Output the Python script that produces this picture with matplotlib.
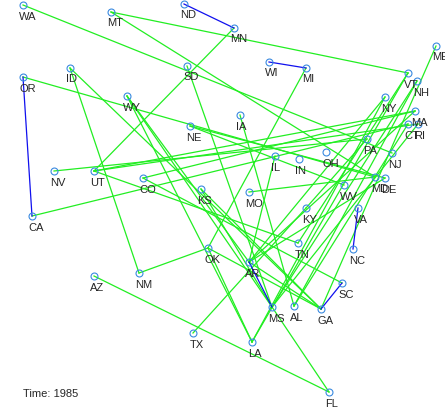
import matplotlib
matplotlib.use("Agg")
import matplotlib.pyplot as plt

# node positions (screen-like units, y grows downward)
states = ["WA", "MT", "ND", "MN", "OR", "ID", "SD", "WY", "NE", "WI", "MI", "IA",
          "VT", "ME", "NH", "NY", "MA", "CT", "RI", "PA", "NJ", "OH", "IL", "IN",
          "NV", "UT", "CO", "CA", "KS", "MO", "WV", "MD", "DE", "KY", "VA", "NC",
          "TN", "OK", "AR", "SC", "MS", "AL", "GA", "LA", "FL", "AZ", "NM", "TX"]
xs = [23, 111, 184, 234, 23, 70, 187, 127, 190, 269, 306, 240,
      408, 436, 417, 385, 415, 408, 418, 367, 392, 326, 275, 299,
      54, 94, 143, 32, 201, 249, 344, 375, 385, 306, 358, 353,
      298, 208, 249, 342, 272, 294, 321, 252, 329, 94, 139, 193]
ys = [5, 12, 4, 28, 77, 68, 66, 96, 126, 62, 68, 115,
      73, 46, 81, 97, 111, 124, 124, 139, 153, 152, 156, 159,
      171, 171, 178, 216, 189, 192, 185, 177, 178, 208, 208, 249,
      243, 248, 262, 283, 307, 306, 309, 342, 392, 276, 273, 333]

blue_edges = [("ND", "MN"), ("WI", "MI"), ("OR", "CA"), ("VA", "NC"),
              ("AR", "MS"), ("GA", "SC")]
green_edges = [("WA", "NJ"), ("MT", "VT"), ("MT", "MD"), ("MN", "UT"),
               ("OR", "MD"), ("ID", "NM"), ("ID", "GA"), ("SD", "MS"),
               ("WY", "AR"), ("WY", "LA"), ("WY", "MS"), ("NE", "WV"),
               ("NE", "DE"), ("IA", "AL"), ("MI", "OK"), ("AZ", "FL"),
               ("TX", "KY"), ("NM", "OK"), ("OK", "LA"), ("OK", "GA"),
               ("AR", "GA"), ("MS", "FL"), ("CA", "CT"), ("UT", "MA"),
               ("UT", "RI"), ("NV", "PA"), ("UT", "TN"), ("CO", "SC"),
               ("CO", "MA"), ("KS", "MS"), ("KS", "GA"), ("MO", "MD"),
               ("ME", "GA"), ("VT", "TN"), ("VT", "LA"), ("NH", "MS"),
               ("NH", "AL"), ("NY", "AR"), ("NY", "LA"), ("MA", "AR"),
               ("RI", "MS"), ("CT", "AL"), ("PA", "KY"), ("IL", "AR"),
               ("DE", "AR")]
year = 1985

pos = {s: (x, y) for s, x, y in zip(states, xs, ys)}

fig = plt.figure(figsize=(4.45, 4.15), dpi=100)
ax = fig.add_axes([0, 0, 1, 1])

for a, b in green_edges:
    ax.plot([pos[a][0], pos[b][0]], [pos[a][1], pos[b][1]], color="#22ee22", lw=0.9)
for a, b in blue_edges:
    ax.plot([pos[a][0], pos[b][0]], [pos[a][1], pos[b][1]], color="#1010ee", lw=0.9)

ax.plot(xs, ys, "o", ms=5, mfc="none", mec="#3a8ae0", mew=0.8)
for s, x, y in zip(states, xs, ys):
    ax.text(x - 3.7, y + 14.5, s, fontsize=8, family="Liberation Sans",
            color="#262626", ha="left", va="baseline")

ax.text(23, 397, "Time: %d" % year, fontsize=8, family="Liberation Sans",
        color="#262626", ha="left", va="baseline")

ax.set_xlim(0, 445)
ax.set_ylim(415, 0)
ax.axis("off")
fig.savefig("out.png", dpi=100)
